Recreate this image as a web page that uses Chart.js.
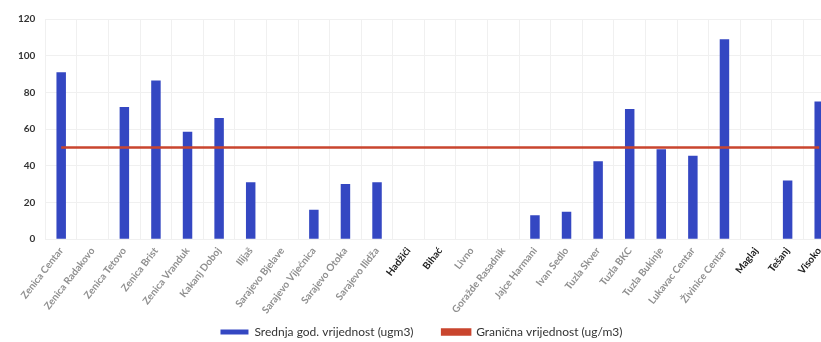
<!DOCTYPE html>
<html>
<head>
<meta charset="utf-8">
<script src="https://cdn.jsdelivr.net/npm/chart.js@4.4.1/dist/chart.umd.min.js"></script>
<style>
  html, body { margin: 0; padding: 0; background: #fff; overflow: hidden; width: 821px; height: 342px; }
  #wrap { width: 884px; height: 342px; position: relative; }
</style>
</head>
<body>
<div id="wrap"><canvas id="c"></canvas></div>
<script>
// Monitoring stations
const stations = [
  'Zenica Centar', 'Zenica Radakovo', 'Zenica Tetovo', 'Zenica Brist', 'Zenica Vranduk',
  'Kakanj Doboj', 'Ilijaš', 'Sarajevo Bjelave', 'Sarajevo Vijećnica', 'Sarajevo Otoka',
  'Sarajevo Ilidža', 'Hadžići', 'Bihać', 'Livno', 'Goražde Rasadnik',
  'Jajce Harmani', 'Ivan Sedlo', 'Tuzla Skver', 'Tuzla BKC', 'Tuzla Bukinje',
  'Lukavac Centar', 'Živinice Centar', 'Maglaj', 'Tešanj', 'Visoko'
];

// Annual mean (ugm3); null where no value was reported
const annualMean = [
  91, null, 72, 86.5, 58.5,
  66, 31, null, 16, 30,
  31, null, null, null, null,
  13, 15, 42.5, 71, 49,
  45.5, 109, null, 32, 75
];

// Limit value (ug/m3)
const limitValue = stations.map(() => 50);

// Stations whose labels are printed in dark ink
const darkLabels = ['Hadžići', 'Bihać', 'Maglaj', 'Tešanj', 'Visoko'];

const yTicks = [0, 20, 40, 60, 80, 100, 120];

new Chart(document.getElementById('c'), {
  data: {
    labels: stations,
    datasets: [
      {
        type: 'bar',
        label: 'Srednja god. vrijednost (ugm3)        ',
        data: annualMean,
        backgroundColor: '#3447c2',
        borderWidth: 0,
        barPercentage: 0.3,
        categoryPercentage: 1.0,
        order: 2
      },
      {
        type: 'line',
        label: 'Granična vrijednost (ug/m3)',
        data: limitValue,
        borderColor: '#c9452e',
        backgroundColor: '#c9452e',
        borderWidth: 2.5,
        pointRadius: 0,
        fill: false,
        order: 1
      }
    ]
  },
  options: {
    responsive: true,
    maintainAspectRatio: false,
    animation: false,
    layout: { padding: { left: 8, right: 49, top: 19, bottom: -6 } },
    plugins: {
      tooltip: { enabled: false },
      legend: {
        position: 'bottom',
        labels: {
          font: { family: 'Lato', size: 12 },
          color: '#333',
          boxWidth: 28,
          boxHeight: 5,
          padding: 4,
          sort: (a, b) => a.datasetIndex - b.datasetIndex
        }
      }
    },
    scales: {
      x: {
        offset: true,
        grid: { color: '#f0f0f0', offset: true, drawTicks: false },
        border: { display: false },
        ticks: {
          autoSkip: false,
          maxRotation: 52,
          minRotation: 52,
          padding: 6,
          font: { family: 'Lato', size: 10, weight: 'bold' },
          color: (ctx) => darkLabels.includes(stations[ctx.index]) ? '#222' : '#8f8f8f'
        }
      },
      y: {
        min: 0,
        max: 120,
        afterBuildTicks: (axis) => { axis.ticks = yTicks.map(v => ({ value: v })); },
        grid: { color: '#f0f0f0', drawTicks: false },
        border: { display: false },
        ticks: {
          padding: 10,
          font: { family: 'Lato', size: 10, weight: 'bold' },
          color: '#333'
        }
      }
    }
  }
});
</script>
</body>
</html>
